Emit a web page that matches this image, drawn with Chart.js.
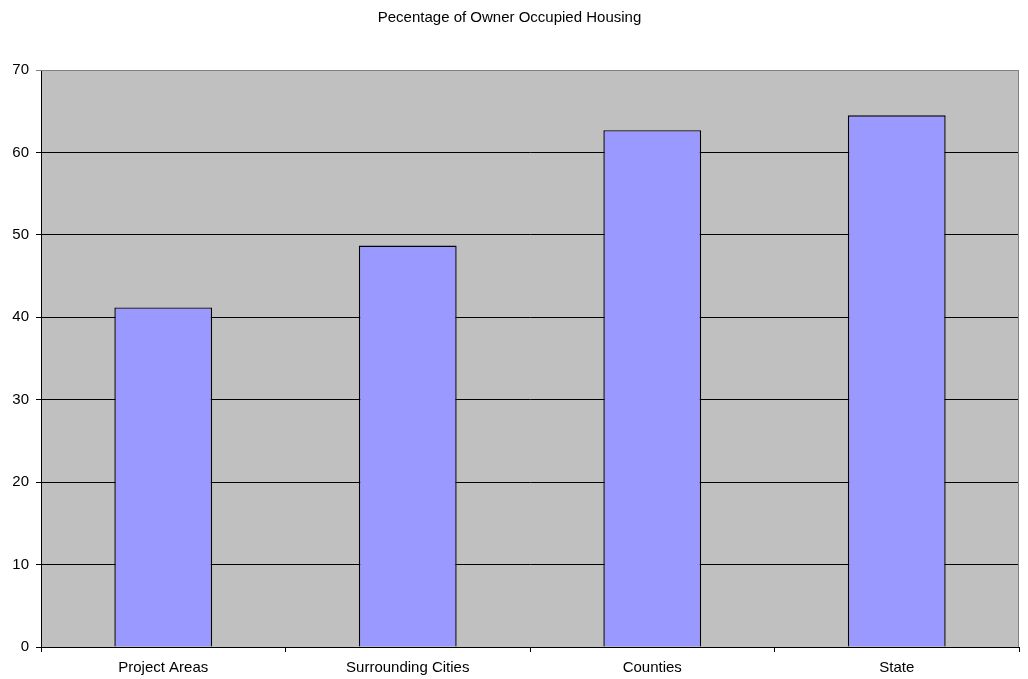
<!DOCTYPE html>
<html>
<head>
<meta charset="utf-8">
<script src="https://cdn.jsdelivr.net/npm/chart.js@4"></script>
<style>
  html, body { margin: 0; padding: 0; background: #ffffff; }
  #wrap { width: 1028px; height: 679px; }
</style>
</head>
<body>
<div id="wrap"><canvas id="chart" width="1028" height="679"></canvas></div>
<script>
// Owner-occupied housing share by geography (percent)
const categories = ['Project Areas', 'Surrounding Cities', 'Counties', 'State'];
const ownerOccupied = [41.2, 48.7, 62.7, 64.5];
const yTicks = [0, 10, 20, 30, 40, 50, 60, 70];

// Grey plot background with a grey frame on the top and right edges
const plotFrame = {
  id: 'plotFrame',
  beforeDraw(chart) {
    const { ctx, chartArea: a } = chart;
    ctx.save();
    ctx.fillStyle = '#c0c0c0';
    ctx.fillRect(a.left, a.top, a.right - a.left, a.bottom - a.top);
    ctx.restore();
  },
  afterDatasetsDraw(chart) {
    const { ctx, chartArea: a } = chart;
    ctx.save();
    ctx.strokeStyle = '#808080';
    ctx.lineWidth = 1;
    ctx.beginPath();
    ctx.moveTo(a.left, a.top + 0.5);
    ctx.lineTo(a.right - 0.5, a.top + 0.5);
    ctx.lineTo(a.right - 0.5, a.bottom);
    ctx.stroke();
    ctx.restore();
  }
};

const FONT = '"Liberation Sans", Arial, sans-serif';

new Chart(document.getElementById('chart'), {
  type: 'bar',
  data: {
    labels: categories,
    datasets: [{
      data: ownerOccupied,
      backgroundColor: '#9999ff',
      borderColor: '#000000',
      borderWidth: 1.4,
      categoryPercentage: 0.4,
      barPercentage: 1.0
    }]
  },
  options: {
    responsive: false,
    animation: false,
    devicePixelRatio: 1,
    layout: { padding: { left: 0, right: 9, top: 0, bottom: 0 } },
    plugins: {
      legend: { display: false },
      tooltip: { enabled: false },
      title: {
        display: true,
        text: 'Pecentage of Owner Occupied Housing',
        color: '#000000',
        font: { family: FONT, size: 15, weight: 'normal' },
        padding: { top: 9, bottom: 43 }
      }
    },
    scales: {
      x: {
        offset: true,
        grid: {
          offset: true,
          drawOnChartArea: false,
          drawTicks: true,
          tickLength: 5,
          color: '#000000'
        },
        border: { color: '#000000', width: 1 },
        ticks: {
          color: '#000000',
          padding: 7,
          maxRotation: 0,
          font: { family: FONT, size: 15 }
        },
        afterFit(scale) { scale.height = 32; }
      },
      y: {
        min: 0,
        max: 70,
        afterBuildTicks(scale) { scale.ticks = yTicks.map(v => ({ value: v })); },
        grid: {
          drawTicks: true,
          tickLength: 5,
          color: ctx => (ctx.tick && ctx.tick.value === 70) ? '#808080' : '#000000'
        },
        border: { color: '#000000', width: 1 },
        ticks: {
          color: '#000000',
          padding: 7,
          font: { family: FONT, size: 15 }
        },
        afterFit(scale) { scale.width = 41; }
      }
    }
  },
  plugins: [plotFrame]
});
</script>
</body>
</html>
